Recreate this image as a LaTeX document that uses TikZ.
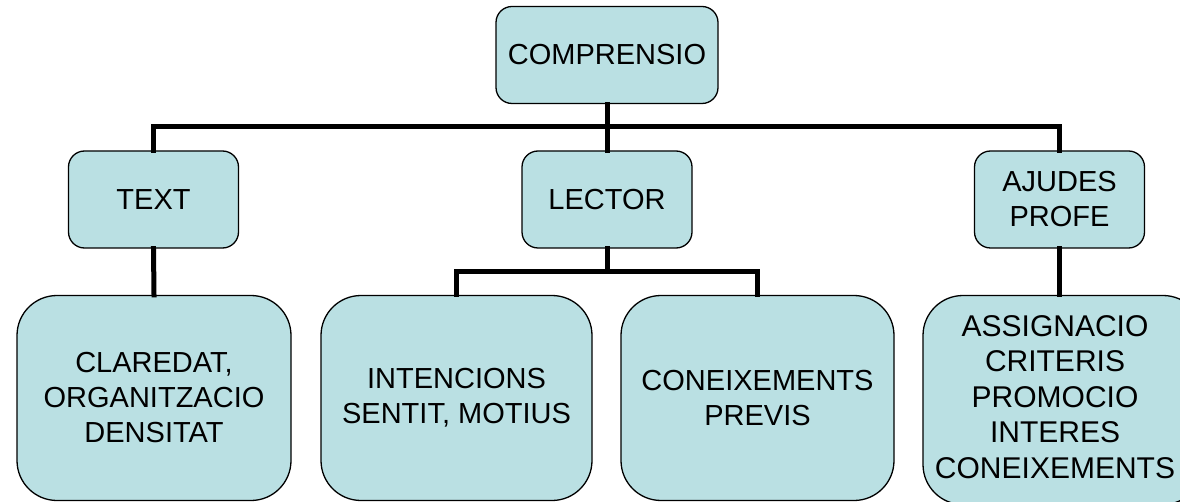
\documentclass[tikz,border=0pt]{standalone}
\usepackage{fontspec}
\setmainfont{Liberation Sans}
\definecolor{boxfill}{RGB}{186,224,227}
\begin{document}
\begin{tikzpicture}[x=1pt,y=-1pt,
  box/.style={draw=black,line width=1.3pt,fill=boxfill,align=center,inner sep=0pt,
    font=\fontsize{29}{35}\selectfont},
  smallbox/.style={box,rounded corners=16pt,minimum width=170pt,minimum height=97pt},
  bigbox/.style={box,rounded corners=40pt,minimum width=273pt,minimum height=205pt},
  conn/.style={line width=5pt,line join=miter,line cap=rect}]
\useasboundingbox (0,0) rectangle (1180,502);
\node[smallbox,minimum width=222pt] (comp) at (607,55) {COMPRENSIO};
\node[smallbox] (text) at (153.5,199.5) {TEXT};
\node[smallbox] (lector) at (607,199.5) {LECTOR};
\node[smallbox] (ajudes) at (1059.5,199.5) {AJUDES\\PROFE};
\node[bigbox,minimum width=274pt] (clar) at (154,398) {CLAREDAT,\\ORGANITZACIO\\DENSITAT};
\node[bigbox,minimum width=271pt] (inten) at (456.5,398) {INTENCIONS\\SENTIT, MOTIUS};
\node[bigbox] (coneix) at (757.5,398) {CONEIXEMENTS\\PREVIS};
\node[bigbox,align=none,font=\fontsize{30}{35.5}\selectfont,minimum width=280pt,minimum height=209pt]
  (assig) at (1063,400)
  {\begin{tabular}{@{}c@{}}ASSIGNACIO\\CRITERIS\\PROMOCIO\\INTERES\\CONEIXEMENTS\end{tabular}\hspace*{16pt}};
\coordinate (bus) at (0,127);
\coordinate (subbus) at (0,272);
\draw[conn] (comp.south) -- (comp.south |- bus);
\draw[conn] (text.north) -- (text.north |- bus) -- (ajudes.north |- bus) -- (ajudes.north);
\draw[conn] (lector.north) -- (lector.north |- bus);
\draw[conn] (text.south) -- (clar.north);
\draw[conn] (ajudes.south) -- (ajudes.south |- assig.north);
\draw[conn] (lector.south) -- (lector.south |- subbus);
\draw[conn] (inten.north) -- (inten.north |- subbus) -- (coneix.north |- subbus) -- (coneix.north);
\end{tikzpicture}
\end{document}
